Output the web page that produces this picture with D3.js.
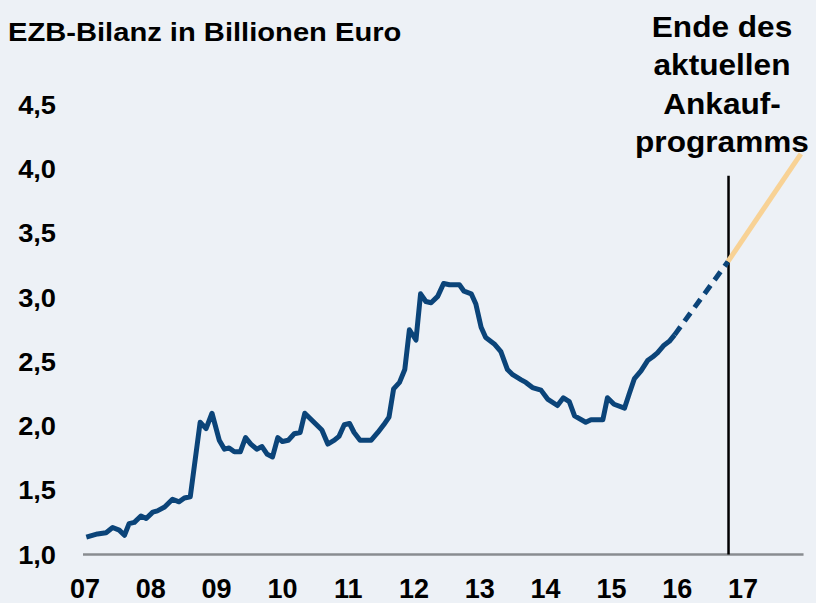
<!DOCTYPE html>
<html>
<head>
<meta charset="utf-8">
<script src="https://cdn.jsdelivr.net/npm/d3@7"></script>
<style>
  body { margin: 0; background: #edf1f6; }
  svg { display: block; font-family: "Liberation Sans", Arial, sans-serif; font-weight: bold; }
</style>
</head>
<body>
<svg id="chart" viewBox="0 0 816 603" width="816" height="603"></svg>
<script>
/* ----- Data ----- */

// ECB balance sheet, trillion euro, by decimal year
let balance = [
    [2007.02, 1.135], [2007.19, 1.16], [2007.32, 1.17], [2007.42, 1.21], [2007.52, 1.19],
    [2007.60, 1.15], [2007.67, 1.24], [2007.75, 1.25], [2007.85, 1.30], [2007.93, 1.28],
    [2008.03, 1.33], [2008.10, 1.34], [2008.21, 1.37], [2008.33, 1.43], [2008.43, 1.41],
    [2008.51, 1.44], [2008.60, 1.45], [2008.75, 2.03], [2008.84, 1.98], [2008.93, 2.10],
    [2009.04, 1.89], [2009.12, 1.82], [2009.19, 1.83], [2009.27, 1.80], [2009.36, 1.80],
    [2009.44, 1.91], [2009.52, 1.86], [2009.61, 1.82], [2009.69, 1.84], [2009.77, 1.78],
    [2009.85, 1.76], [2009.93, 1.91], [2010.00, 1.88], [2010.09, 1.89], [2010.18, 1.94],
    [2010.27, 1.95], [2010.34, 2.10], [2010.48, 2.03], [2010.60, 1.97], [2010.69, 1.86],
    [2010.79, 1.89], [2010.86, 1.92], [2010.94, 2.01], [2011.02, 2.02], [2011.09, 1.95],
    [2011.18, 1.89], [2011.35, 1.89], [2011.45, 1.95], [2011.54, 2.01], [2011.62, 2.07],
    [2011.69, 2.29], [2011.78, 2.34], [2011.86, 2.44], [2011.93, 2.75], [2012.03, 2.67],
    [2012.10, 3.03], [2012.18, 2.97], [2012.26, 2.96], [2012.36, 3.01], [2012.45, 3.11],
    [2012.54, 3.10], [2012.69, 3.10], [2012.76, 3.05], [2012.87, 3.03], [2012.94, 2.95],
    [2013.02, 2.77], [2013.09, 2.69], [2013.22, 2.64], [2013.32, 2.58], [2013.42, 2.44],
    [2013.50, 2.40], [2013.63, 2.36], [2013.70, 2.34], [2013.80, 2.30], [2013.93, 2.28],
    [2014.03, 2.21], [2014.18, 2.16], [2014.27, 2.22], [2014.36, 2.19], [2014.44, 2.08],
    [2014.61, 2.03], [2014.69, 2.05], [2014.87, 2.05], [2014.94, 2.22], [2015.04, 2.17],
    [2015.20, 2.14], [2015.27, 2.25], [2015.35, 2.37], [2015.45, 2.43], [2015.55, 2.51],
    [2015.63, 2.54], [2015.70, 2.57], [2015.80, 2.63], [2015.88, 2.66], [2015.96, 2.71]
];

// forecast until end of the purchase programme (dashed)
let forecast = [[2015.96, 2.71], [2016.77, 3.28]];

// after the programme end (orange)
let extension = [[2016.77, 3.28], [2017.88, 4.12]];

let programEnd = 2016.78;
let programEndTop = 3.95;

let yearTicks = [2007, 2008, 2009, 2010, 2011, 2012, 2013, 2014, 2015, 2016, 2017];
let yearLabels = ["07", "08", "09", "10", "11", "12", "13", "14", "15", "16", "17"];
let valueTicks = [1.0, 1.5, 2.0, 2.5, 3.0, 3.5, 4.0, 4.5];

let title = "EZB-Bilanz in Billionen Euro";
let note = ["Ende des", "aktuellen", "Ankauf-", "programms"];


/* ----- Setup ----- */

let svg = d3.select("#chart");
let stretch = 1.09;   // the source glyphs are a bit wider than Arial

let x = d3.scaleLinear()
    .domain([2007, 2018])
    .range([85, 85 + 11 * 65.8]);

let y = d3.scaleLinear()
    .domain([1, 4.5])
    .range([554.5, 105]);

let line = d3.line()
    .x(d => x(d[0]))
    .y(d => y(d[1]));


/* ----- Axes ----- */

svg.append("line")
    .attr("x1", x(2007) - 2)
    .attr("x2", x(2017.92))
    .attr("y1", y(1))
    .attr("y2", y(1))
    .attr("stroke", "#898c90")
    .attr("stroke-width", 2.5);

let fmt = d3.format(".1f");

svg.append("g")
    .selectAll("text")
    .data(valueTicks)
    .enter()
    .append("text")
    .attr("transform", d => `translate(56, ${y(d) + 9}) scale(${stretch},1)`)
    .attr("text-anchor", "end")
    .attr("font-size", 25)
    .attr("fill", "#000")
    .text(d => fmt(d).replace(".", ","));

svg.append("g")
    .selectAll("text")
    .data(yearTicks)
    .enter()
    .append("text")
    .attr("x", d => x(d))
    .attr("y", 598)
    .attr("text-anchor", "middle")
    .attr("font-size", 27)
    .attr("fill", "#000")
    .text((d, i) => yearLabels[i]);


/* ----- Lines ----- */

svg.append("line")
    .attr("x1", x(programEnd))
    .attr("x2", x(programEnd))
    .attr("y1", y(programEndTop))
    .attr("y2", y(1))
    .attr("stroke", "#000")
    .attr("stroke-width", 2.5);

svg.append("path")
    .datum(extension)
    .attr("d", line)
    .attr("fill", "none")
    .attr("stroke", "#f8d295")
    .attr("stroke-width", 5);

svg.append("path")
    .datum(forecast)
    .attr("d", line)
    .attr("fill", "none")
    .attr("stroke", "#0b4479")
    .attr("stroke-width", 5)
    .attr("stroke-dasharray", "10,7");

svg.append("path")
    .datum(balance)
    .attr("d", line)
    .attr("fill", "none")
    .attr("stroke", "#0b4479")
    .attr("stroke-width", 5)
    .attr("stroke-linejoin", "round");


/* ----- Text ----- */

svg.append("text")
    .attr("transform", `translate(8, 41) scale(1.1,1)`)
    .attr("font-size", 26.5)
    .attr("fill", "#000")
    .text(title);

svg.append("g")
    .selectAll("text")
    .data(note)
    .enter()
    .append("text")
    .attr("transform", (d, i) => `translate(722, ${37 + i * 38.4}) scale(${stretch},1)`)
    .attr("text-anchor", "middle")
    .attr("font-size", 29)
    .attr("fill", "#000")
    .text(d => d);
</script>
</body>
</html>
